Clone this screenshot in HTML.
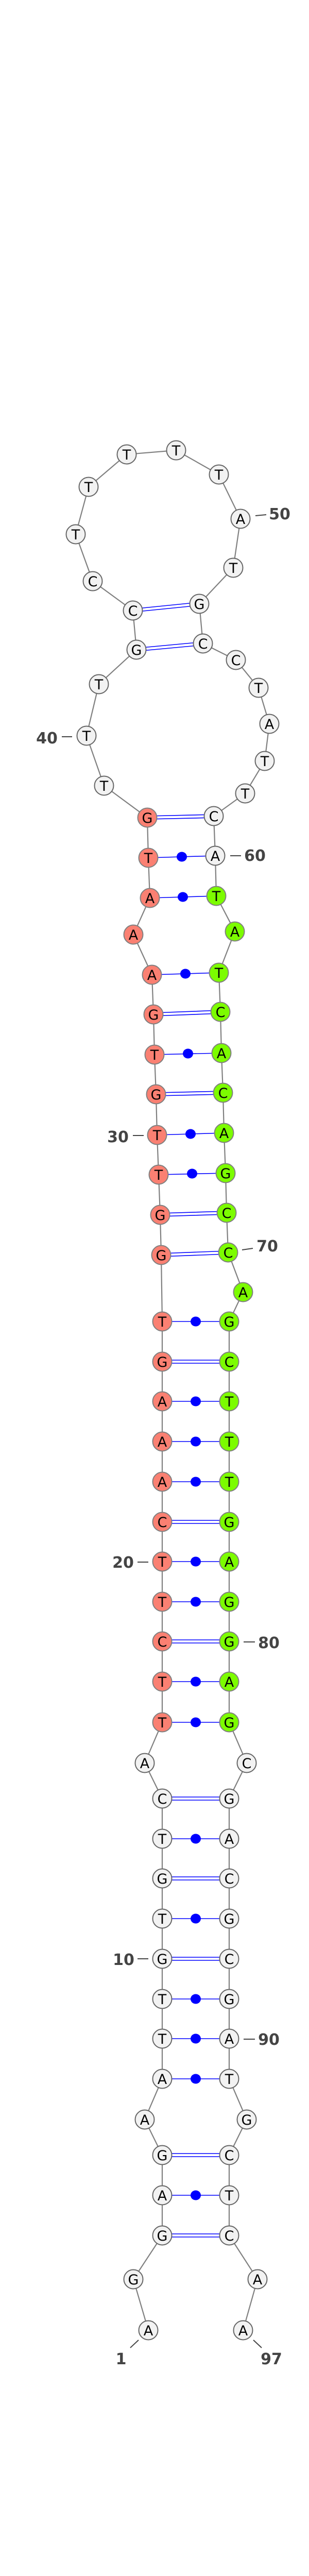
<!DOCTYPE html>
<html><head><meta charset="utf-8"><style>
html,body{margin:0;padding:0;background:#fff;width:600px;height:5344px;overflow:hidden;}
svg{display:block;}
.n text{font-family:"DejaVu Sans","Liberation Sans",sans-serif;}
</style></head><body>
<svg width="600" height="5344" viewBox="0 0 600 5344" xmlns="http://www.w3.org/2000/svg">
<rect width="600" height="5344" fill="#fff"/>
<polyline fill="none" stroke="#808080" stroke-width="2.2" points="288,4523 259,4424 315,4339 315,4261 315,4183 281,4114 315,4035 315,3957 315,3880 315,3802 315,3724 315,3646 315,3569 315,3491 281,3422 315,3343 315,3264 315,3186 315,3109 315,3031 315,2954 315,2876 315,2798 315,2720 315,2643 315,2565 313,2436 311,2358 308,2280 305,2203 303,2124 300,2047 298,1969 295,1892 259,1814 291,1743 288,1665 286,1587 202,1525 168,1428 192,1328 265,1261 258,1185 180,1128 147,1037 172,945 246,882 342,874 425,921 467,1007 453,1102 387,1172 394,1249 458,1281 502,1335 523,1405 514,1477 476,1540 415,1584 418,1661 420,1739 456,1808 425,1888 428,1964 430,2044 433,2121 435,2199 438,2277 440,2354 443,2431 472,2508 445,2565 445,2643 445,2720 445,2798 445,2876 445,2954 445,3031 445,3109 445,3186 445,3264 445,3343 479,3422 445,3491 445,3569 445,3646 445,3724 445,3802 445,3880 445,3957 445,4035 479,4114 445,4183 445,4261 445,4339 500,4424 472,4523"/>
<g stroke="#0000ff" stroke-width="1.6" fill="none">
<path d="M315,4336H445M315,4342H445"/>
<path d="M315,4180H445M315,4186H445"/>
<path d="M315,3799H445M315,3805H445"/>
<path d="M315,3643H445M315,3649H445"/>
<path d="M315,3488H445M315,3494H445"/>
<path d="M315,3183H445M315,3189H445"/>
<path d="M315,2951H445M315,2957H445"/>
<path d="M315,2640H445M315,2646H445"/>
<path d="M313,2433L443,2428M313,2439L443,2434"/>
<path d="M311,2355L440,2351M311,2361L440,2357"/>
<path d="M303,2121L433,2118M303,2127L433,2124"/>
<path d="M298,1966L428,1961M298,1972L428,1967"/>
<path d="M286,1584L415,1581M286,1590L415,1587"/>
<path d="M265,1258L394,1246M265,1264L394,1252"/>
<path d="M258,1182L387,1169M258,1188L387,1175"/>
</g>
<g stroke="#0000ff" stroke-width="1.6">
<line x1="315" y1="4261" x2="445" y2="4261"/>
<line x1="315" y1="4035" x2="445" y2="4035"/>
<line x1="315" y1="3957" x2="445" y2="3957"/>
<line x1="315" y1="3880" x2="445" y2="3880"/>
<line x1="315" y1="3724" x2="445" y2="3724"/>
<line x1="315" y1="3569" x2="445" y2="3569"/>
<line x1="315" y1="3343" x2="445" y2="3343"/>
<line x1="315" y1="3264" x2="445" y2="3264"/>
<line x1="315" y1="3109" x2="445" y2="3109"/>
<line x1="315" y1="3031" x2="445" y2="3031"/>
<line x1="315" y1="2876" x2="445" y2="2876"/>
<line x1="315" y1="2798" x2="445" y2="2798"/>
<line x1="315" y1="2720" x2="445" y2="2720"/>
<line x1="315" y1="2565" x2="445" y2="2565"/>
<line x1="308" y1="2280" x2="438" y2="2277"/>
<line x1="305" y1="2203" x2="435" y2="2199"/>
<line x1="300" y1="2047" x2="430" y2="2044"/>
<line x1="295" y1="1892" x2="425" y2="1888"/>
<line x1="291" y1="1743" x2="420" y2="1739"/>
<line x1="288" y1="1665" x2="418" y2="1661"/>
</g>
<g fill="#0000ff">
<ellipse cx="380" cy="4261" rx="10" ry="9.5"/>
<ellipse cx="380" cy="4035" rx="10" ry="9.5"/>
<ellipse cx="380" cy="3957" rx="10" ry="9.5"/>
<ellipse cx="380" cy="3880" rx="10" ry="9.5"/>
<ellipse cx="380" cy="3724" rx="10" ry="9.5"/>
<ellipse cx="380" cy="3569" rx="10" ry="9.5"/>
<ellipse cx="380" cy="3343" rx="10" ry="9.5"/>
<ellipse cx="380" cy="3264" rx="10" ry="9.5"/>
<ellipse cx="380" cy="3109" rx="10" ry="9.5"/>
<ellipse cx="380" cy="3031" rx="10" ry="9.5"/>
<ellipse cx="380" cy="2876" rx="10" ry="9.5"/>
<ellipse cx="380" cy="2798" rx="10" ry="9.5"/>
<ellipse cx="380" cy="2720" rx="10" ry="9.5"/>
<ellipse cx="380" cy="2565" rx="10" ry="9.5"/>
<ellipse cx="373" cy="2278" rx="10" ry="9.5"/>
<ellipse cx="370" cy="2201" rx="10" ry="9.5"/>
<ellipse cx="365" cy="2045" rx="10" ry="9.5"/>
<ellipse cx="360" cy="1890" rx="10" ry="9.5"/>
<ellipse cx="355" cy="1741" rx="10" ry="9.5"/>
<ellipse cx="353" cy="1663" rx="10" ry="9.5"/>
</g>
<g class="n" stroke-width="2" font-size="27" text-anchor="middle">
<g fill="#f2f2f2" stroke="#666">
<circle cx="288" cy="4523" r="18.5"/><circle cx="259" cy="4424" r="18.5"/><circle cx="315" cy="4339" r="18.5"/><circle cx="315" cy="4261" r="18.5"/><circle cx="315" cy="4183" r="18.5"/><circle cx="281" cy="4114" r="18.5"/><circle cx="315" cy="4035" r="18.5"/><circle cx="315" cy="3957" r="18.5"/><circle cx="315" cy="3880" r="18.5"/><circle cx="315" cy="3802" r="18.5"/><circle cx="315" cy="3724" r="18.5"/><circle cx="315" cy="3646" r="18.5"/><circle cx="315" cy="3569" r="18.5"/><circle cx="315" cy="3491" r="18.5"/><circle cx="281" cy="3422" r="18.5"/>
<circle cx="202" cy="1525" r="18.5"/><circle cx="168" cy="1428" r="18.5"/><circle cx="192" cy="1328" r="18.5"/><circle cx="265" cy="1261" r="18.5"/><circle cx="258" cy="1185" r="18.5"/><circle cx="180" cy="1128" r="18.5"/><circle cx="147" cy="1037" r="18.5"/><circle cx="172" cy="945" r="18.5"/><circle cx="246" cy="882" r="18.5"/><circle cx="342" cy="874" r="18.5"/><circle cx="425" cy="921" r="18.5"/><circle cx="467" cy="1007" r="18.5"/><circle cx="453" cy="1102" r="18.5"/><circle cx="387" cy="1172" r="18.5"/><circle cx="394" cy="1249" r="18.5"/><circle cx="458" cy="1281" r="18.5"/><circle cx="502" cy="1335" r="18.5"/><circle cx="523" cy="1405" r="18.5"/><circle cx="514" cy="1477" r="18.5"/><circle cx="476" cy="1540" r="18.5"/><circle cx="415" cy="1584" r="18.5"/><circle cx="418" cy="1661" r="18.5"/>
<circle cx="479" cy="3422" r="18.5"/><circle cx="445" cy="3491" r="18.5"/><circle cx="445" cy="3569" r="18.5"/><circle cx="445" cy="3646" r="18.5"/><circle cx="445" cy="3724" r="18.5"/><circle cx="445" cy="3802" r="18.5"/><circle cx="445" cy="3880" r="18.5"/><circle cx="445" cy="3957" r="18.5"/><circle cx="445" cy="4035" r="18.5"/><circle cx="479" cy="4114" r="18.5"/><circle cx="445" cy="4183" r="18.5"/><circle cx="445" cy="4261" r="18.5"/><circle cx="445" cy="4339" r="18.5"/><circle cx="500" cy="4424" r="18.5"/><circle cx="472" cy="4523" r="18.5"/>
</g>
<g fill="#fa8072" stroke="#808080">
<circle cx="315" cy="3343" r="18.5"/><circle cx="315" cy="3264" r="18.5"/><circle cx="315" cy="3186" r="18.5"/><circle cx="315" cy="3109" r="18.5"/><circle cx="315" cy="3031" r="18.5"/><circle cx="315" cy="2954" r="18.5"/><circle cx="315" cy="2876" r="18.5"/><circle cx="315" cy="2798" r="18.5"/><circle cx="315" cy="2720" r="18.5"/><circle cx="315" cy="2643" r="18.5"/><circle cx="315" cy="2565" r="18.5"/><circle cx="313" cy="2436" r="18.5"/><circle cx="311" cy="2358" r="18.5"/><circle cx="308" cy="2280" r="18.5"/><circle cx="305" cy="2203" r="18.5"/><circle cx="303" cy="2124" r="18.5"/><circle cx="300" cy="2047" r="18.5"/><circle cx="298" cy="1969" r="18.5"/><circle cx="295" cy="1892" r="18.5"/><circle cx="259" cy="1814" r="18.5"/><circle cx="291" cy="1743" r="18.5"/><circle cx="288" cy="1665" r="18.5"/><circle cx="286" cy="1587" r="18.5"/>
</g>
<g fill="#7cfc00" stroke="#808080">
<circle cx="420" cy="1739" r="18.5"/><circle cx="456" cy="1808" r="18.5"/><circle cx="425" cy="1888" r="18.5"/><circle cx="428" cy="1964" r="18.5"/><circle cx="430" cy="2044" r="18.5"/><circle cx="433" cy="2121" r="18.5"/><circle cx="435" cy="2199" r="18.5"/><circle cx="438" cy="2277" r="18.5"/><circle cx="440" cy="2354" r="18.5"/><circle cx="443" cy="2431" r="18.5"/><circle cx="472" cy="2508" r="18.5"/><circle cx="445" cy="2565" r="18.5"/><circle cx="445" cy="2643" r="18.5"/><circle cx="445" cy="2720" r="18.5"/><circle cx="445" cy="2798" r="18.5"/><circle cx="445" cy="2876" r="18.5"/><circle cx="445" cy="2954" r="18.5"/><circle cx="445" cy="3031" r="18.5"/><circle cx="445" cy="3109" r="18.5"/><circle cx="445" cy="3186" r="18.5"/><circle cx="445" cy="3264" r="18.5"/><circle cx="445" cy="3343" r="18.5"/>
</g>
<g fill="#000" stroke="none">
<text x="288" y="4533">A</text><text x="259" y="4434">G</text><text x="315" y="4349">G</text><text x="315" y="4271">A</text><text x="315" y="4193">G</text><text x="281" y="4124">A</text><text x="315" y="4045">A</text><text x="315" y="3967">T</text><text x="315" y="3890">T</text><text x="315" y="3812">G</text><text x="315" y="3734">T</text><text x="315" y="3656">G</text><text x="315" y="3579">T</text><text x="315" y="3501">C</text><text x="281" y="3432">A</text>
<text x="315" y="3353">T</text><text x="315" y="3274">T</text><text x="315" y="3196">C</text><text x="315" y="3119">T</text><text x="315" y="3041">T</text><text x="315" y="2964">C</text><text x="315" y="2886">A</text><text x="315" y="2808">A</text><text x="315" y="2730">A</text><text x="315" y="2653">G</text><text x="315" y="2575">T</text><text x="313" y="2446">G</text><text x="311" y="2368">G</text><text x="308" y="2290">T</text><text x="305" y="2213">T</text><text x="303" y="2134">G</text><text x="300" y="2057">T</text><text x="298" y="1979">G</text><text x="295" y="1902">A</text><text x="259" y="1824">A</text><text x="291" y="1753">A</text><text x="288" y="1675">T</text><text x="286" y="1597">G</text>
<text x="202" y="1535">T</text><text x="168" y="1438">T</text><text x="192" y="1338">T</text><text x="265" y="1271">G</text><text x="258" y="1195">C</text><text x="180" y="1138">C</text><text x="147" y="1047">T</text><text x="172" y="955">T</text><text x="246" y="892">T</text><text x="342" y="884">T</text><text x="425" y="931">T</text><text x="467" y="1017">A</text><text x="453" y="1112">T</text><text x="387" y="1182">G</text><text x="394" y="1259">C</text><text x="458" y="1291">C</text><text x="502" y="1345">T</text><text x="523" y="1415">A</text><text x="514" y="1487">T</text><text x="476" y="1550">T</text><text x="415" y="1594">C</text><text x="418" y="1671">A</text>
<text x="420" y="1749">T</text><text x="456" y="1818">A</text><text x="425" y="1898">T</text><text x="428" y="1974">C</text><text x="430" y="2054">A</text><text x="433" y="2131">C</text><text x="435" y="2209">A</text><text x="438" y="2287">G</text><text x="440" y="2364">C</text><text x="443" y="2441">C</text><text x="472" y="2518">A</text><text x="445" y="2575">G</text><text x="445" y="2653">C</text><text x="445" y="2730">T</text><text x="445" y="2808">T</text><text x="445" y="2886">T</text><text x="445" y="2964">G</text><text x="445" y="3041">A</text><text x="445" y="3119">G</text><text x="445" y="3196">G</text><text x="445" y="3274">A</text><text x="445" y="3353">G</text>
<text x="479" y="3432">C</text><text x="445" y="3501">G</text><text x="445" y="3579">A</text><text x="445" y="3656">C</text><text x="445" y="3734">G</text><text x="445" y="3812">C</text><text x="445" y="3890">G</text><text x="445" y="3967">A</text><text x="445" y="4045">T</text><text x="479" y="4124">G</text><text x="445" y="4193">C</text><text x="445" y="4271">T</text><text x="445" y="4349">C</text><text x="500" y="4434">A</text><text x="472" y="4533">A</text>
</g>
</g>
<g stroke="#444" stroke-width="2">
<line x1="496" y1="1001" x2="517" y2="999"/>
<line x1="120" y1="1430" x2="140" y2="1430"/>
<line x1="447" y1="1661" x2="468" y2="1661"/>
<line x1="258" y1="2204" x2="279" y2="2204"/>
<line x1="470" y1="2426" x2="491" y2="2423"/>
<line x1="267" y1="3032" x2="288" y2="3032"/>
<line x1="473" y1="3187" x2="495" y2="3187"/>
<line x1="267" y1="3802" x2="288" y2="3802"/>
<line x1="473" y1="3958" x2="495" y2="3958"/>
<line x1="253" y1="4557" x2="269" y2="4542"/>
<line x1="492" y1="4542" x2="508" y2="4557"/>
</g>
<g font-family="DejaVu Sans, Liberation Sans, sans-serif" font-weight="bold" font-size="30" fill="#444" text-anchor="middle">
<text x="543" y="1008">50</text>
<text x="91" y="1443">40</text>
<text x="495" y="1671">60</text>
<text x="229" y="2217">30</text>
<text x="519" y="2429">70</text>
<text x="239" y="3043">20</text>
<text x="522" y="3199">80</text>
<text x="240" y="3814">10</text>
<text x="522" y="3969">90</text>
<text x="235" y="4589">1</text>
<text x="527" y="4589">97</text>
</g>
<text x="301" y="5338" font-family="DejaVu Sans, Liberation Sans, sans-serif" font-weight="bold" font-size="11" fill="#000" text-anchor="middle">dme-mir-2b-2_annot [-43.2]</text>
</svg>
</body></html>
